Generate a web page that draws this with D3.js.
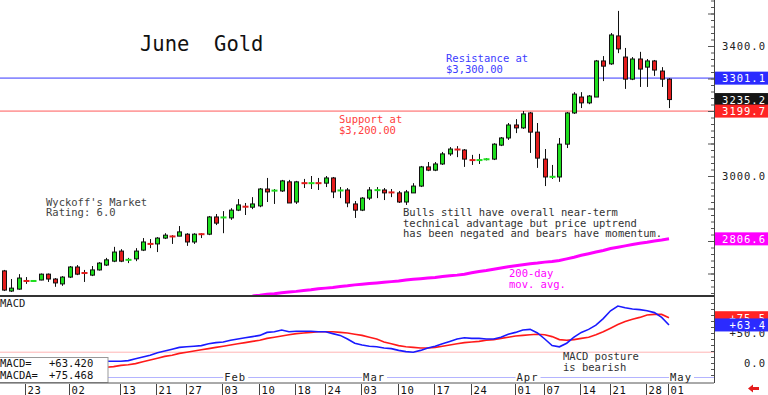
<!DOCTYPE html>
<html>
<head>
<meta charset="utf-8">
<script src="https://cdn.jsdelivr.net/npm/d3@7"></script>
<style>
  body { margin: 0; background: #fff; }
  svg { display: block; }
  text { font-family: "DejaVu Sans Mono", monospace; }
</style>
</head>
<body>
<script>
'use strict';

// trading days shown on the chart (month-day)
const dates = [
  "12-18","12-19","12-20","12-23","12-24","12-26","12-27","12-30","12-31",
  "01-02","01-03","01-06","01-07","01-08","01-09","01-10","01-13","01-14","01-15","01-16","01-17",
  "01-21","01-22","01-23","01-24","01-27","01-28","01-29","01-30","01-31",
  "02-03","02-04","02-05","02-06","02-07","02-10","02-11","02-12","02-13","02-14",
  "02-18","02-19","02-20","02-21","02-24","02-25","02-26","02-27","02-28",
  "03-03","03-04","03-05","03-06","03-07","03-10","03-11","03-12","03-13","03-14",
  "03-17","03-18","03-19","03-20","03-21","03-24","03-25","03-26","03-27","03-28","03-31",
  "04-01","04-02","04-03","04-04","04-07","04-08","04-09","04-10","04-11",
  "04-14","04-15","04-16","04-17","04-21","04-22","04-23","04-24","04-25",
  "04-28","04-29","04-30","05-01"
];

// daily OHLC, June gold futures
const opens = [2708,2646,2652,2680,2676,2680,2698,2683,2668,2689,2720,2705,2695,2711,2726,2738,2769,2739,2745,2772,2794,
  2791,2809,2816,2815,2821,2797,2823,2821,2874,2871,2871,2895,2907,2904,2908,2960,2953,2954,2982,
  2920,2980,2976,2980,2978,2994,2954,2957,2914,2895,2932,2955,2957,2951,2948,2920,2948,2969,3028,
  3018,3037,3068,3083,3080,3052,3046,3050,3052,3095,3117,3157,3148,3194,3135,3052,2996,2997,3098,3194,
  3243,3225,3243,3354,3345,3431,3366,3298,3360,3335,3354,3323,3298];
const highs = [2711,2683,2698,2689,2679,2700,2700,2686,2692,2723,2726,2711,2723,2735,2748,2782,2775,2748,2778,2809,2806,
  2812,2824,2818,2846,2824,2824,2824,2877,2883,2892,2901,2929,2917,2935,2963,2994,2960,2988,2988,
  2985,2991,3000,2994,3000,2997,2966,2963,2923,2935,2966,2966,2963,2960,2954,2957,2978,3031,3043,
  3043,3074,3089,3092,3083,3065,3068,3055,3101,3120,3163,3175,3200,3197,3163,3083,3034,3117,3197,3258,
  3258,3249,3357,3369,3440,3508,3394,3366,3382,3360,3357,3335,3301];
const lows = [2646,2643,2650,2668,2675,2679,2674,2659,2662,2686,2695,2674,2692,2709,2723,2735,2735,2732,2738,2769,2778,
  2766,2806,2791,2815,2785,2791,2809,2818,2849,2824,2865,2892,2880,2898,2904,2920,2914,2951,2917,
  2914,2963,2960,2957,2966,2932,2932,2904,2871,2892,2926,2932,2926,2935,2917,2911,2948,2966,3015,
  3015,3034,3062,3058,3028,3034,3037,3048,3049,3092,3111,3132,3145,3071,3025,2969,2991,2982,3086,3191,
  3209,3221,3243,3292,3342,3378,3268,3295,3274,3274,3308,3274,3209];
const closes = [2649,2655,2686,2674,2678,2698,2683,2671,2689,2720,2698,2698,2711,2732,2742,2766,2738,2745,2769,2797,2788,
  2809,2818,2812,2828,2797,2821,2819,2874,2855,2874,2895,2911,2904,2914,2960,2951,2957,2985,2917,
  2982,2976,2980,2976,2994,2951,2957,2917,2895,2932,2957,2958,2948,2948,2920,2951,2969,3028,3018,
  3037,3068,3083,3080,3052,3046,3052,3053,3098,3117,3157,3148,3191,3135,3055,2997,2999,3098,3194,3252,
  3225,3246,3354,3338,3434,3391,3298,3360,3329,3354,3326,3298,3235.2];

// 200-day moving average, aligned with the last dates (earlier values sit below the panel)
const ma200 = [2631,2633,2636,2638,2641,2643,2645,2648,2650,2653,2655,2657,2660,2662,2665,2667,2669,2671,2673,2675,
  2677,2680,2682,2684,2686,2688,2691,2693,2695,2698,2702,2706,2709,2713,2717,2721,2724,2727,2730,2732,
  2735,2737,2740,2745,2750,2756,2761,2766,2771,2777,2781,2785,2789,2793,2796,2800,2803,2806.6];

// MACD and its average, aligned with the last dates
const macd = [3,3,3,4,7,10,13,17,20,23, 26,27,28,29,32,34,35,38,40,42, 44,46,51,52,55,52,53,53,53,52,
  52,49,46,40,33,30,28,27,25,24, 21,19,18,21,25,28,32,36,40,42, 41,41,40,40,43,48,51,55,56,50,
  40,29,27,33,43,51,56,63,74,87, 95,92,90,89,87,84,76,63.42];
const macda = [-7,-6,-4,-3,-1,2,5,8,11,13, 16,18,20,22,24,26,28,30,32,34, 36,38,41,43,45,47,49,50,51,52,
  52,52,51,50,48,46,43,40,35,32, 29,27,26,25,25,26,28,30,32,34, 35,36,38,39,41,43,45,46,47,48,
  47,44,39,38,39,41,43,47,52,58, 64,69,73,76,80,81,81,75.468];

// support / resistance levels
const resistance = 3301.1;
const support = 3199.7;
const macdRef = 18;

// axis ticks
const dayTicks = ["12-23","01-02","01-13","01-21","01-27","02-03","02-10","02-18","02-24","03-03",
  "03-10","03-17","03-24","04-01","04-07","04-14","04-21","04-28","05-01"];
const monthTicks = ["02-03","03-03","04-01","05-01"];
const monthNames = ["Feb","Mar","Apr","May"];
const priceLabels = [3000, 3400];
const macdLabels = [0, 50];

const W = 768, H = 395;
const axisX = 714;
const mainBottom = 296;

const svg = d3.select('body').append('svg')
  .attr('width', W)
  .attr('height', H);

// scales
const x = d3.scalePoint().domain(dates).range([4, 669]);
const y = d3.scaleLinear().domain([3000, 3400]).range([176, 46]);
const yM = d3.scaleLinear().domain([0, 50]).range([363, 333]);

drawMainPanel();
drawMacdPanel();
drawAxes();
drawTags();

// price panel: levels, moving average, candles, notes
function drawMainPanel() {
  svg.append('clipPath').attr('id', 'mainClip')
    .append('rect').attr('x', 0).attr('y', 0).attr('width', axisX).attr('height', mainBottom);

  const g = svg.append('g').attr('clip-path', 'url(#mainClip)');

  // title
  svg.append('text')
    .attr('x', 140).attr('y', 51)
    .style('font-size', '20.5px')
    .attr('fill', '#111')
    .attr('xml:space', 'preserve')
    .text('June  Gold');

  // support and resistance lines
  g.append('line')
    .attr('x1', 0).attr('x2', axisX)
    .attr('y1', y(resistance)).attr('y2', y(resistance))
    .attr('stroke', '#8c8cff').attr('stroke-width', 1.6);
  g.append('line')
    .attr('x1', 0).attr('x2', axisX)
    .attr('y1', y(support)).attr('y2', y(support))
    .attr('stroke', '#ffa0a0').attr('stroke-width', 1.6);

  // 200-day moving average
  const maDates = dates.slice(dates.length - ma200.length);
  const maLine = d3.line()
    .x((d, i) => x(maDates[i]))
    .y(d => y(d));
  g.append('path')
    .datum(ma200)
    .attr('d', maLine)
    .attr('fill', 'none')
    .attr('stroke', '#ff00ff')
    .attr('stroke-width', 3);

  // candles
  const candles = dates.map((d, i) => ({ date: d, o: opens[i], h: highs[i], l: lows[i], c: closes[i] }));
  const cx = d => Math.round(x(d.date));

  g.selectAll('.wick')
    .data(candles)
    .enter()
    .append('line')
      .attr('class', 'wick')
      .attr('x1', d => cx(d) + 0.5).attr('x2', d => cx(d) + 0.5)
      .attr('y1', d => y(d.h)).attr('y2', d => y(d.l))
      .attr('stroke', '#111').attr('stroke-width', 1);

  const isDoji = d => Math.abs(y(d.o) - y(d.c)) < 2.5;
  const colour = d => d.c >= d.o ? '#1ede1e' : '#e41c1c';

  g.selectAll('.body')
    .data(candles.filter(d => !isDoji(d)))
    .enter()
    .append('rect')
      .attr('class', 'body')
      .attr('x', d => cx(d) - 1.5)
      .attr('y', d => y(Math.max(d.o, d.c)))
      .attr('width', 4)
      .attr('height', d => Math.abs(y(d.o) - y(d.c)))
      .attr('fill', colour)
      .attr('stroke', '#111').attr('stroke-width', 1);

  g.selectAll('.doji')
    .data(candles.filter(isDoji))
    .enter()
    .append('rect')
      .attr('class', 'doji')
      .attr('x', d => cx(d) - 2.5)
      .attr('y', d => y((d.o + d.c) / 2) - 1)
      .attr('width', 6)
      .attr('height', 2)
      .attr('fill', colour);

  // notes
  note(446, [62, 73], ['Resistance at', '$3,300.00'], '#3c3cff');
  note(339, [123, 134], ['Support at', '$3,200.00'], '#ff4040');
  note(46, [206, 216], ["Wyckoff's Market", 'Rating: 6.0'], '#444');
  note(403, [216, 227, 237], ['Bulls still have overall near-term',
    'technical advantage but price uptrend',
    'has been negated and bears have momentum.'], '#333');
  note(509, [277, 288], ['200-day', 'mov. avg.'], '#ff00ff');

  // panel divider
  svg.append('line')
    .attr('x1', 0).attr('x2', axisX)
    .attr('y1', mainBottom).attr('y2', mainBottom)
    .attr('stroke', '#333').attr('stroke-width', 2);
}

// MACD panel
function drawMacdPanel() {
  const mDates = dates.slice(dates.length - macd.length);

  svg.append('line')
    .attr('x1', 0).attr('x2', axisX)
    .attr('y1', yM(macdRef)).attr('y2', yM(macdRef))
    .attr('stroke', '#ffb4b4').attr('stroke-width', 1);

  const line = d3.line()
    .x((d, i) => x(mDates[i]))
    .y(d => yM(d));

  svg.append('path')
    .datum(macda)
    .attr('d', line)
    .attr('fill', 'none')
    .attr('stroke', '#ff1a1a')
    .attr('stroke-width', 1.6);

  svg.append('path')
    .datum(macd)
    .attr('d', line)
    .attr('fill', 'none')
    .attr('stroke', '#1a1aff')
    .attr('stroke-width', 1.6);

  note(0, [307], ['MACD'], '#222');
  note(563, [360, 371], ['MACD posture', 'is bearish'], '#333');

  // month line with month names
  svg.append('line')
    .attr('x1', 0).attr('x2', axisX)
    .attr('y1', 377.5).attr('y2', 377.5)
    .attr('stroke', '#b4b4ff').attr('stroke-width', 1);

  monthTicks.forEach((d, i) => {
    svg.append('rect')
      .attr('x', x(d)).attr('y', 371)
      .attr('width', 25).attr('height', 11)
      .attr('fill', '#fff');
    svg.append('text')
      .attr('x', x(d) + 1).attr('y', 381)
      .style('font-size', '10.5px').style('letter-spacing', '1px')
      .attr('fill', '#222')
      .text(monthNames[i]);
  });

  // readout box
  svg.append('rect')
    .attr('x', -1).attr('y', 357.5)
    .attr('width', 109).attr('height', 25)
    .attr('fill', '#fff')
    .attr('stroke', '#999');
  const fmt = d3.format('+.3f');
  note(0, [367, 379], ['MACD=', 'MACDA='], '#111');
  note(49, [367, 379], [fmt(macd[macd.length - 1]), fmt(macda[macda.length - 1])], '#111');

  // bottom border
  svg.append('line')
    .attr('x1', 0).attr('x2', axisX)
    .attr('y1', 383).attr('y2', 383)
    .attr('stroke', '#555').attr('stroke-width', 1);

  // day ticks
  dayTicks.forEach(d => {
    const tx = Math.round(x(d)) - 0.5;
    svg.append('line')
      .attr('x1', tx).attr('x2', tx)
      .attr('y1', 384).attr('y2', 395)
      .attr('stroke', '#444');
    svg.append('text')
      .attr('x', tx + 2).attr('y', 394)
      .style('font-size', '10.5px').style('letter-spacing', '0.7px')
      .attr('fill', '#111')
      .text(d.slice(3));
  });
}

// right hand axis
function drawAxes() {
  svg.append('line')
    .attr('x1', axisX + 0.5).attr('x2', axisX + 0.5)
    .attr('y1', 0).attr('y2', 383)
    .attr('stroke', '#444');

  const minor = d3.axisRight(y).tickValues(d3.range(2640, 3541, 20)).tickSize(-3).tickFormat('');
  const major = d3.axisRight(y).tickValues(d3.range(2700, 3501, 100)).tickSize(-6).tickFormat('');
  [minor, major].forEach(ax => {
    const a = svg.append('g').attr('transform', `translate(${axisX},0)`).call(ax);
    a.select('.domain').remove();
    a.selectAll('line').attr('stroke', '#555');
  });

  const mMinor = d3.axisRight(yM).tickValues(d3.range(-20, 141, 10)).tickSize(-3).tickFormat('');
  const ma = svg.append('g').attr('transform', `translate(${axisX},0)`).call(mMinor);
  ma.select('.domain').remove();
  ma.selectAll('line').attr('stroke', '#555');
  ma.selectAll('.tick').filter(d => yM(d) < 299 || yM(d) > 382).remove();

  priceLabels.forEach(v => {
    svg.append('text')
      .attr('x', 766).attr('y', y(v) + 4)
      .attr('text-anchor', 'end')
      .style('font-size', '10.5px').style('letter-spacing', '1px')
      .attr('fill', '#222')
      .text(d3.format('.1f')(v));
  });

  macdLabels.forEach(v => {
    svg.append('text')
      .attr('x', 766).attr('y', yM(v) + 4)
      .attr('text-anchor', 'end')
      .style('font-size', '10.5px').style('letter-spacing', '1px')
      .attr('fill', '#222')
      .text(v > 0 ? d3.format('+.1f')(v) : d3.format('.1f')(v));
  });

  // little red arrow in the corner
  svg.append('path')
    .attr('d', 'M748,388.5 L753,384.5 L753,387 L759,387 L759,390 L753,390 L753,392.5 Z')
    .attr('fill', '#e41c1c');
}

// coloured value tags on the right axis
function drawTags() {
  const f1 = d3.format('.1f');
  tag(y(resistance), '#2b2bff', f1(resistance));
  tag(y(closes[closes.length - 1]), '#151515', f1(closes[closes.length - 1]));
  tag(y(support), '#ff2424', f1(support));
  tag(y(ma200[ma200.length - 1]), '#ff00ff', f1(ma200[ma200.length - 1]));
  tag(yM(macda[macda.length - 1]), '#ff2424', d3.format('+.1f')(macda[macda.length - 1]));
  tag(yM(macd[macd.length - 1]), '#2b2bff', d3.format('+.1f')(macd[macd.length - 1]));
}

function tag(cy, fill, label) {
  svg.append('rect')
    .attr('x', axisX + 1).attr('y', cy - 6.5)
    .attr('width', W - axisX).attr('height', 13)
    .attr('fill', fill);
  svg.append('text')
    .attr('x', 766).attr('y', cy + 4)
    .attr('text-anchor', 'end')
    .style('font-size', '10.5px').style('letter-spacing', '1px')
    .attr('fill', '#fff')
    .text(label);
}

// multi-line text note
function note(tx, ys, lines, colour) {
  lines.forEach((t, i) => {
    svg.append('text')
      .attr('x', tx).attr('y', ys[i])
      .style('font-size', '10.5px')
      .attr('fill', colour)
      .text(t);
  });
}
</script>
</body>
</html>
